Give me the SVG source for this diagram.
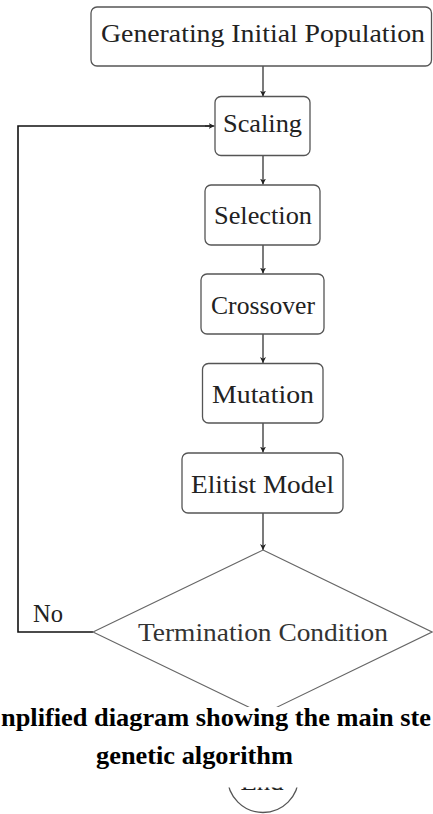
<svg xmlns="http://www.w3.org/2000/svg" width="433" height="814" viewBox="0 0 433 814">
<style>
.box{fill:#fff;stroke:#555;stroke-width:1.3}
.dia{fill:#fff;stroke:#666;stroke-width:1.1}
.t{font-family:'Liberation Serif','Times New Roman',serif;font-size:25px;fill:#222;text-anchor:middle}
.c{font-family:'Liberation Serif','Times New Roman',serif;font-size:25px;font-weight:bold;fill:#000}
.ar{fill:none;stroke:#222;stroke-width:1.2;marker-end:url(#ah)}
.fb{fill:none;stroke:#111;stroke-width:1.6}
</style>
<defs>
<marker id="ah" viewBox="0 0 10 10" refX="10" refY="5" markerWidth="6" markerHeight="6" markerUnits="userSpaceOnUse" orient="auto">
<path d="M0,0 L10,5 L0,10 L3,5 Z" fill="#222"/>
</marker>
</defs>
<rect width="433" height="814" fill="#fff"/>
<g id="connectors">
<line class="ar" x1="263" y1="66" x2="263" y2="96.5"/>
<line class="ar" x1="263" y1="156" x2="263" y2="184.5"/>
<line class="ar" x1="263" y1="245" x2="263" y2="273.5"/>
<line class="ar" x1="263" y1="334" x2="263" y2="363"/>
<line class="ar" x1="263" y1="423" x2="263" y2="452.5"/>
<line class="ar" x1="263" y1="513" x2="263" y2="550"/>
<polyline class="fb" points="93,632 18,632 18,126 210,126"/>
<line class="ar" x1="205" y1="126" x2="214.5" y2="126"/>
<text x="33" y="622" class="t" style="text-anchor:start" textLength="30" lengthAdjust="spacingAndGlyphs">No</text>
</g>
<g id="n-init">
<rect class="box" x="91" y="7" width="340.5" height="59" rx="6"/>
<text class="t" x="263" y="42" textLength="324" lengthAdjust="spacingAndGlyphs">Generating Initial Population</text>
</g>
<g id="n-scaling">
<rect class="box" x="215" y="96.5" width="95" height="59" rx="6"/>
<text class="t" x="262.5" y="131.5" textLength="79" lengthAdjust="spacingAndGlyphs">Scaling</text>
</g>
<g id="n-selection">
<rect class="box" x="205" y="185" width="115" height="60" rx="6"/>
<text class="t" x="263" y="224" textLength="98" lengthAdjust="spacingAndGlyphs">Selection</text>
</g>
<g id="n-crossover">
<rect class="box" x="201" y="274" width="123" height="60" rx="6"/>
<text class="t" x="263" y="314" textLength="104" lengthAdjust="spacingAndGlyphs">Crossover</text>
</g>
<g id="n-mutation">
<rect class="box" x="202.5" y="363.5" width="120.5" height="59.5" rx="6"/>
<text class="t" x="263" y="402.5" textLength="102" lengthAdjust="spacingAndGlyphs">Mutation</text>
</g>
<g id="n-elitist">
<rect class="box" x="182" y="453" width="161" height="60" rx="6"/>
<text class="t" x="262.5" y="493" textLength="143" lengthAdjust="spacingAndGlyphs">Elitist Model</text>
</g>
<g id="n-termination">
<polygon class="dia" points="263,550 432,632 263,714 93,632"/>
<text class="t" x="263" y="641" textLength="250" lengthAdjust="spacingAndGlyphs" style="fill:#333">Termination Condition</text>
</g>
<g id="n-end">
<circle cx="263" cy="777" r="35.5" fill="#fff" stroke="#555" stroke-width="1.3"/>
<text class="t" x="262" y="789.5" textLength="43" lengthAdjust="spacingAndGlyphs">End</text>
</g>
<g id="caption">
<rect x="0" y="707" width="433" height="80.5" fill="#fff"/>
<text class="c" x="1" y="726" textLength="430" lengthAdjust="spacingAndGlyphs">nplified diagram showing the main ste</text>
<text class="c" x="96" y="764" textLength="197" lengthAdjust="spacingAndGlyphs">genetic algorithm</text>
</g>
</svg>
